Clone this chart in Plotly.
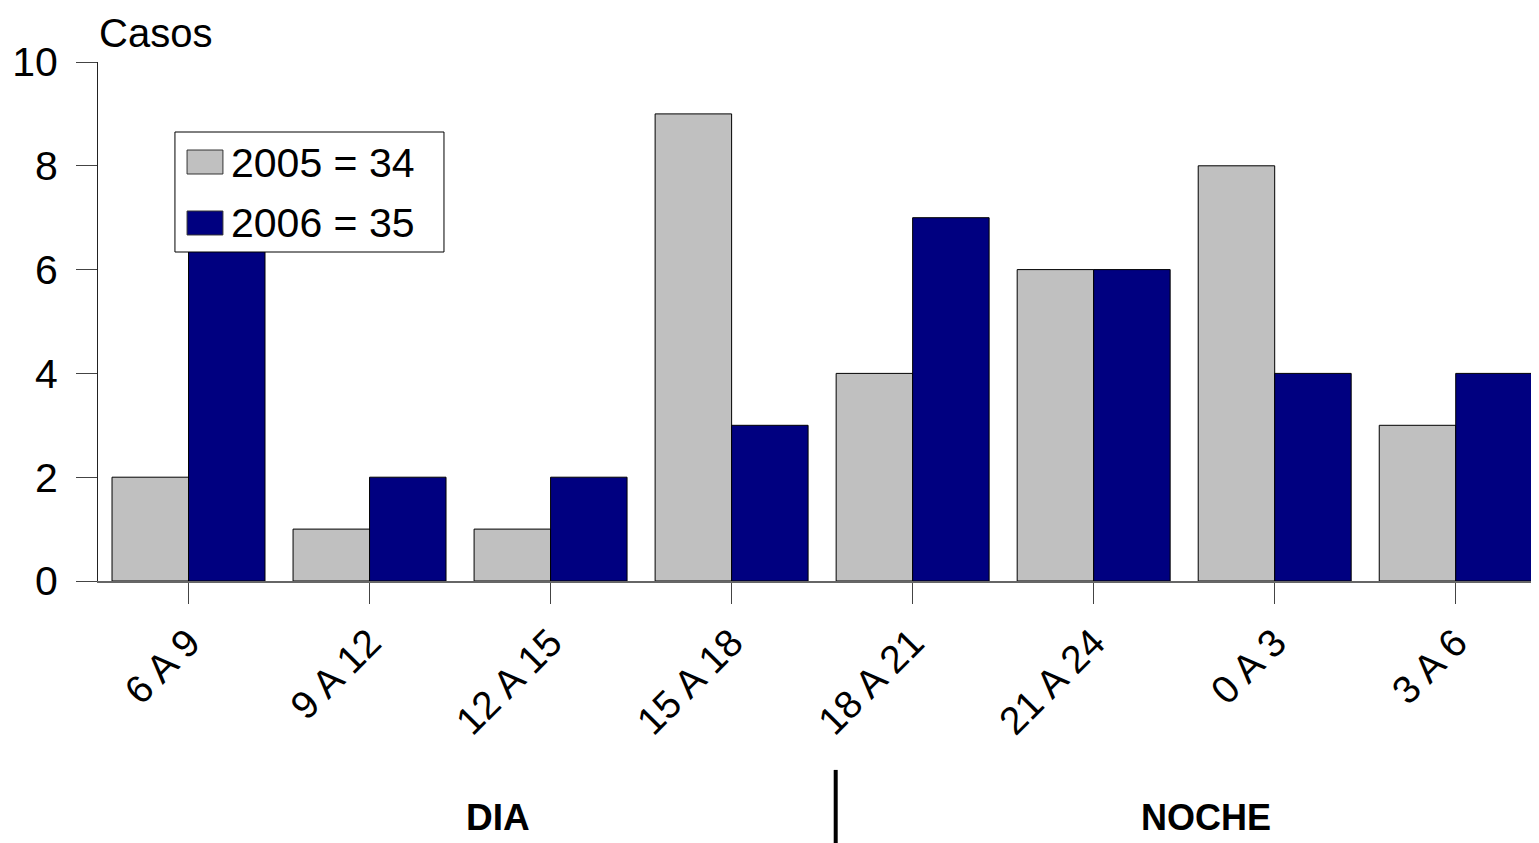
import plotly.graph_objects as go

categories = ["6 A 9", "9 A 12", "12 A 15", "15 A 18", "18 A 21", "21 A 24", "0 A 3", "3 A 6"]
values_2005 = [2, 1, 1, 9, 4, 6, 8, 3]
values_2006 = [7, 2, 2, 3, 7, 6, 4, 4]
series_names = ["2005 = 34", "2006 = 35"]
series_colors = ["#C0C0C0", "#000080"]
y_ticks = [0, 2, 4, 6, 8, 10]

FONT = "Liberation Sans, Arial, sans-serif"
NARROW = "Liberation Sans Narrow, Arial Narrow, " + FONT

fig = go.Figure()
for name, vals, col in zip(series_names, [values_2005, values_2006], series_colors):
    fig.add_trace(go.Bar(x=categories, y=vals, name=name, showlegend=False,
                         marker=dict(color=col, line=dict(color="#000000", width=1))))

fig.update_layout(
    width=1531, height=835,
    margin=dict(l=90, r=0, t=54, b=262),
    paper_bgcolor="white", plot_bgcolor="white",
    barmode="group", bargap=0.155, bargroupgap=0,
    font=dict(family=FONT, color="black", size=36),
    showlegend=False,
)

fig.update_xaxes(
    type="category", range=[-0.5, 7.46],
    showline=True, linecolor="#666666", linewidth=2,
    ticks="outside", ticklen=21, tickcolor="#444444", tickwidth=1,
    tickangle=-45, tickfont=dict(size=39, family=FONT),
    showgrid=False, zeroline=False,
)
fig.update_yaxes(
    range=[0, 10], tickvals=y_ticks,
    showline=True, linecolor="#222222", linewidth=1,
    ticks="outside", ticklen=21, tickcolor="#444444", tickwidth=1,
    tickfont=dict(size=41, family=FONT), ticklabelstandoff=10,
    showgrid=False, zeroline=False,
)

# Y axis title
fig.add_annotation(text="Casos", xref="paper", yref="paper", x=0, y=1,
                   xanchor="left", yanchor="bottom", yshift=6, borderpad=0, showarrow=False,
                   font=dict(size=40, family=FONT))

# Legend (drawn manually to match box and swatch sizes)
fig.add_shape(type="rect", xref="paper", yref="paper", x0=0.0534, x1=0.2401, y0=0.6339, y1=0.8651,
              line=dict(color="black", width=1), fillcolor="white", layer="above")
legend_rows = [(0.7842, 0.8304, 0.8054), (0.6667, 0.7129, 0.6898)]
for (y0, y1, yc), name, col in zip(legend_rows, series_names, series_colors):
    fig.add_shape(type="rect", xref="paper", yref="paper", x0=0.0618, x1=0.0867, y0=y0, y1=y1,
                  line=dict(color="#333333", width=1), fillcolor=col, layer="above")
    fig.add_annotation(text=name, xref="paper", yref="paper", x=0.0906, y=yc,
                       xanchor="left", yanchor="middle", showarrow=False,
                       font=dict(size=41, family=FONT))

# Day / night labels and separator
fig.add_annotation(text="<b>DIA</b>", xref="x", yref="paper", x=1.707, y=-0.455,
                   xanchor="center", yanchor="middle", showarrow=False,
                   font=dict(size=37, family=NARROW))
fig.add_annotation(text="<b>NOCHE</b>", xref="x", yref="paper", x=5.62, y=-0.455,
                   xanchor="center", yanchor="middle", showarrow=False,
                   font=dict(size=36, family=NARROW))
fig.add_shape(type="line", xref="x", yref="paper", x0=3.575, x1=3.575, y0=-0.364, y1=-0.52,
              line=dict(color="black", width=4))

fig.write_html("out.html")
